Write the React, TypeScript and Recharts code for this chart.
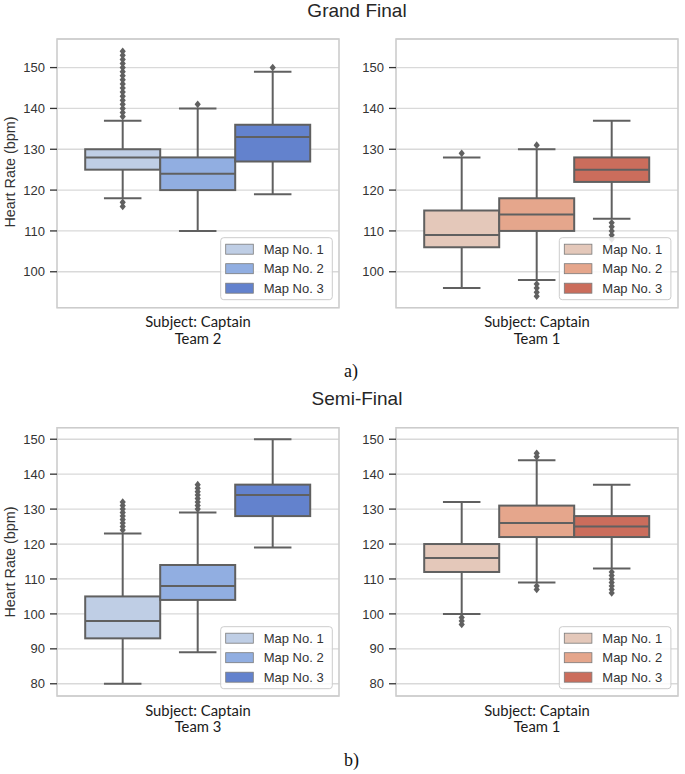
import React from 'react';
import { ComposedChart, Bar, XAxis, YAxis, CartesianGrid, ReferenceArea } from 'recharts';

// ---------- data ----------
const CATEGORY = 'Subject: Captain';
const MAP_LABELS = ['Map No. 1', 'Map No. 2', 'Map No. 3'];

const TOP_TICKS = [100, 110, 120, 130, 140, 150];
const BOTTOM_TICKS = [80, 90, 100, 110, 120, 130, 140, 150];

// Grand Final - Team 2
const gfT2Low = [118, 110, 119];
const gfT2Q1 = [125, 120, 127];
const gfT2Median = [128, 124, 133];
const gfT2Q3 = [130, 128, 136];
const gfT2High = [137, 140, 149];
const gfT2Outliers = [
  [116, 117, 138, 139, 140, 141, 142, 143, 144, 145, 146, 147, 148, 149, 150, 151, 152, 153, 154],
  [141],
  [150],
];

// Grand Final - Team 1
const gfT1Low = [96, 98, 113];
const gfT1Q1 = [106, 110, 122];
const gfT1Median = [109, 114, 125];
const gfT1Q3 = [115, 118, 128];
const gfT1High = [128, 130, 137];
const gfT1Outliers = [
  [129],
  [94, 95, 96, 97, 131],
  [108, 109, 110, 111, 112],
];

// Semi-Final - Team 3
const sfT3Low = [80, 89, 119];
const sfT3Q1 = [93, 104, 128];
const sfT3Median = [98, 108, 134];
const sfT3Q3 = [105, 114, 137];
const sfT3High = [123, 129, 150];
const sfT3Outliers = [
  [124, 125, 126, 127, 128, 129, 130, 131, 132],
  [130, 131, 132, 133, 134, 135, 136, 137],
  [],
];

// Semi-Final - Team 1
const sfT1Low = [100, 109, 113];
const sfT1Q1 = [112, 122, 122];
const sfT1Median = [116, 126, 125];
const sfT1Q3 = [120, 131, 128];
const sfT1High = [132, 144, 137];
const sfT1Outliers = [
  [97, 98, 99],
  [107, 108, 145, 146],
  [106, 107, 108, 109, 110, 111, 112],
];

// ---------- styles ----------
const BLUES = ['#bfcee5', '#91aee1', '#6382cd'];
const REDS = ['#e4c8ba', '#e5a68c', '#cb6d5c'];
const LINE = '#606060';
const SANS = 'Liberation Sans, Arial, sans-serif';

type Stats = {
  low: number[];
  q1: number[];
  med: number[];
  q3: number[];
  high: number[];
  out: number[][];
};

const makeShape = (i: number, s: Stats, color: string) => (props: any) => {
  const { x, y, width, height } = props;
  if (x == null || y == null) return <g />;
  const top = Math.min(y, y + height);
  const bot = Math.max(y, y + height);
  const lo = s.q1[i];
  const hi = s.q3[i];
  const ppu = (bot - top) / (hi - lo);
  const py = (v: number) => bot - (v - lo) * ppu;
  const cx = x + width / 2;
  const cap = width / 4;
  return (
    <g>
      <line x1={cx} x2={cx} y1={py(hi)} y2={py(s.high[i])} stroke={LINE} strokeWidth={2} />
      <line x1={cx - cap} x2={cx + cap} y1={py(s.high[i])} y2={py(s.high[i])} stroke={LINE} strokeWidth={2} />
      <line x1={cx} x2={cx} y1={py(lo)} y2={py(s.low[i])} stroke={LINE} strokeWidth={2} />
      <line x1={cx - cap} x2={cx + cap} y1={py(s.low[i])} y2={py(s.low[i])} stroke={LINE} strokeWidth={2} />
      <rect x={x} y={top} width={width} height={bot - top} fill={color} stroke={LINE} strokeWidth={2} />
      <line x1={x} x2={x + width} y1={py(s.med[i])} y2={py(s.med[i])} stroke={LINE} strokeWidth={2} />
      {s.out[i].map((v, k) => {
        const oy = py(v);
        return (
          <polygon
            key={k}
            points={`${cx},${oy - 3.8} ${cx + 3.1},${oy} ${cx},${oy + 3.8} ${cx - 3.1},${oy}`}
            fill={LINE}
          />
        );
      })}
    </g>
  );
};

const YLabel = (props: any) => (
  <text
    x={15}
    y={172}
    transform="rotate(-90 15 172)"
    textAnchor="middle"
    fontFamily={SANS}
    fontSize={14.4}
    fill="#333"
  >
    Heart Rate (bpm)
  </text>
);

type PanelProps = {
  left: number;
  top: number;
  stats: Stats;
  colors: string[];
  domain: [number, number];
  ticks: number[];
  team: string;
  showYLabel: boolean;
  marginTop: number;
  xAxisHeight: number;
};

const Panel = ({ left, top, stats, colors, domain, ticks, team, showYLabel, marginTop, xAxisHeight }: PanelProps) => {
  const row: any = { cat: CATEGORY };
  stats.q1.forEach((q, i) => {
    row[`m${i}`] = [q, stats.q3[i]];
  });
  const data = [row];
  const XTick = (p: any) => (
    <g>
      <text x={p.x} y={p.y + 19.5} textAnchor="middle" fontFamily="Lato, sans-serif" fontSize={14.8} fill="#1a1a1a">
        {CATEGORY}
      </text>
      <text x={p.x} y={p.y + 35.8} textAnchor="middle" fontFamily="Lato, sans-serif" fontSize={14.8} fill="#1a1a1a">
        {team}
      </text>
    </g>
  );
  return (
    <div style={{ position: 'absolute', left, top }}>
      <ComposedChart
        width={345}
        height={350}
        data={data}
        margin={{ top: marginTop, right: 6, left: 0, bottom: 0 }}
        barGap={0}
        barCategoryGap="10%"
      >
        <CartesianGrid vertical={false} stroke="#d9d9d9" strokeWidth={1.3} />
        <XAxis
          dataKey="cat"
          axisLine={false}
          tickLine={false}
          tickSize={0}
          tickMargin={0}
          height={xAxisHeight}
          tick={<XTick />}
        />
        <YAxis
          width={57}
          domain={domain}
          ticks={ticks}
          allowDataOverflow
          axisLine={false}
          tickSize={7}
          tickMargin={5}
          tickLine={{ stroke: '#333', strokeWidth: 1.3 }}
          tick={{ fontFamily: SANS, fontSize: 13, fill: '#333' }}
          label={showYLabel ? <YLabel /> : undefined}
        />
        <ReferenceArea y1={domain[0]} y2={domain[1]} fill="none" stroke="#cccccc" strokeWidth={1.6} fillOpacity={0} />
        {MAP_LABELS.map((m, i) => (
          <Bar
            key={m}
            dataKey={`m${i}`}
            name={m}
            fill={colors[i]}
            isAnimationActive={false}
            shape={makeShape(i, stats, colors[i])}
          />
        ))}
      </ComposedChart>
    </div>
  );
};

const LegendBox = ({ x, y, colors }: { x: number; y: number; colors: string[] }) => (
  <g>
    <rect x={x} y={y} width={111.6} height={62} rx={3} fill="#ffffff" fillOpacity={0.85} stroke="#cccccc" strokeWidth={1} />
    {MAP_LABELS.map((m, i) => {
      const cy = y + 11.5 + i * 19.5;
      return (
        <g key={m}>
          <rect x={x + 5} y={cy - 5} width={27.6} height={10} fill={colors[i]} stroke="#7a7a7a" strokeWidth={0.8} />
          <text x={x + 43} y={cy + 4.6} fontFamily={SANS} fontSize={13} fill="#333">
            {m}
          </text>
        </g>
      );
    })}
  </g>
);

const gfT2: Stats = { low: gfT2Low, q1: gfT2Q1, med: gfT2Median, q3: gfT2Q3, high: gfT2High, out: gfT2Outliers };
const gfT1: Stats = { low: gfT1Low, q1: gfT1Q1, med: gfT1Median, q3: gfT1Q3, high: gfT1High, out: gfT1Outliers };
const sfT3: Stats = { low: sfT3Low, q1: sfT3Q1, med: sfT3Median, q3: sfT3Q3, high: sfT3High, out: sfT3Outliers };
const sfT1: Stats = { low: sfT1Low, q1: sfT1Q1, med: sfT1Median, q3: sfT1Q3, high: sfT1High, out: sfT1Outliers };

export default function App() {
  const topDomain: [number, number] = [91.2, 157];
  const botDomain: [number, number] = [76.5, 153.3];
  return (
    <div style={{ position: 'absolute', left: 0, top: 0, width: 685, height: 774, background: '#fff', overflow: 'hidden' }}>
      <Panel left={0} top={0} stats={gfT2} colors={BLUES} domain={topDomain} ticks={TOP_TICKS} team="Team 2" showYLabel marginTop={39} xAxisHeight={42.3} />
      <Panel left={339} top={0} stats={gfT1} colors={REDS} domain={topDomain} ticks={TOP_TICKS} team="Team 1" showYLabel={false} marginTop={39} xAxisHeight={42.3} />
      <Panel left={0} top={390} stats={sfT3} colors={BLUES} domain={botDomain} ticks={BOTTOM_TICKS} team="Team 3" showYLabel marginTop={37.7} xAxisHeight={44} />
      <Panel left={339} top={390} stats={sfT1} colors={REDS} domain={botDomain} ticks={BOTTOM_TICKS} team="Team 1" showYLabel={false} marginTop={37.7} xAxisHeight={44} />
      <svg width={685} height={774} style={{ position: 'absolute', left: 0, top: 0, pointerEvents: 'none' }}>
        <text x={357} y={16.7} textAnchor="middle" fontFamily={SANS} fontSize={19} fill="#262626">Grand Final</text>
        <text x={357} y={405} textAnchor="middle" fontFamily={SANS} fontSize={19} fill="#262626">Semi-Final</text>
        <text x={344} y={377} fontFamily="Liberation Serif, Times New Roman, serif" fontSize={18} fill="#111">a)</text>
        <text x={344} y={766} fontFamily="Liberation Serif, Times New Roman, serif" fontSize={18} fill="#111">b)</text>
        <LegendBox x={220.7} y={237.7} colors={BLUES} />
        <LegendBox x={559.3} y={237.7} colors={REDS} />
        <LegendBox x={220.7} y={626.7} colors={BLUES} />
        <LegendBox x={559.3} y={626.7} colors={REDS} />
      </svg>
    </div>
  );
}
